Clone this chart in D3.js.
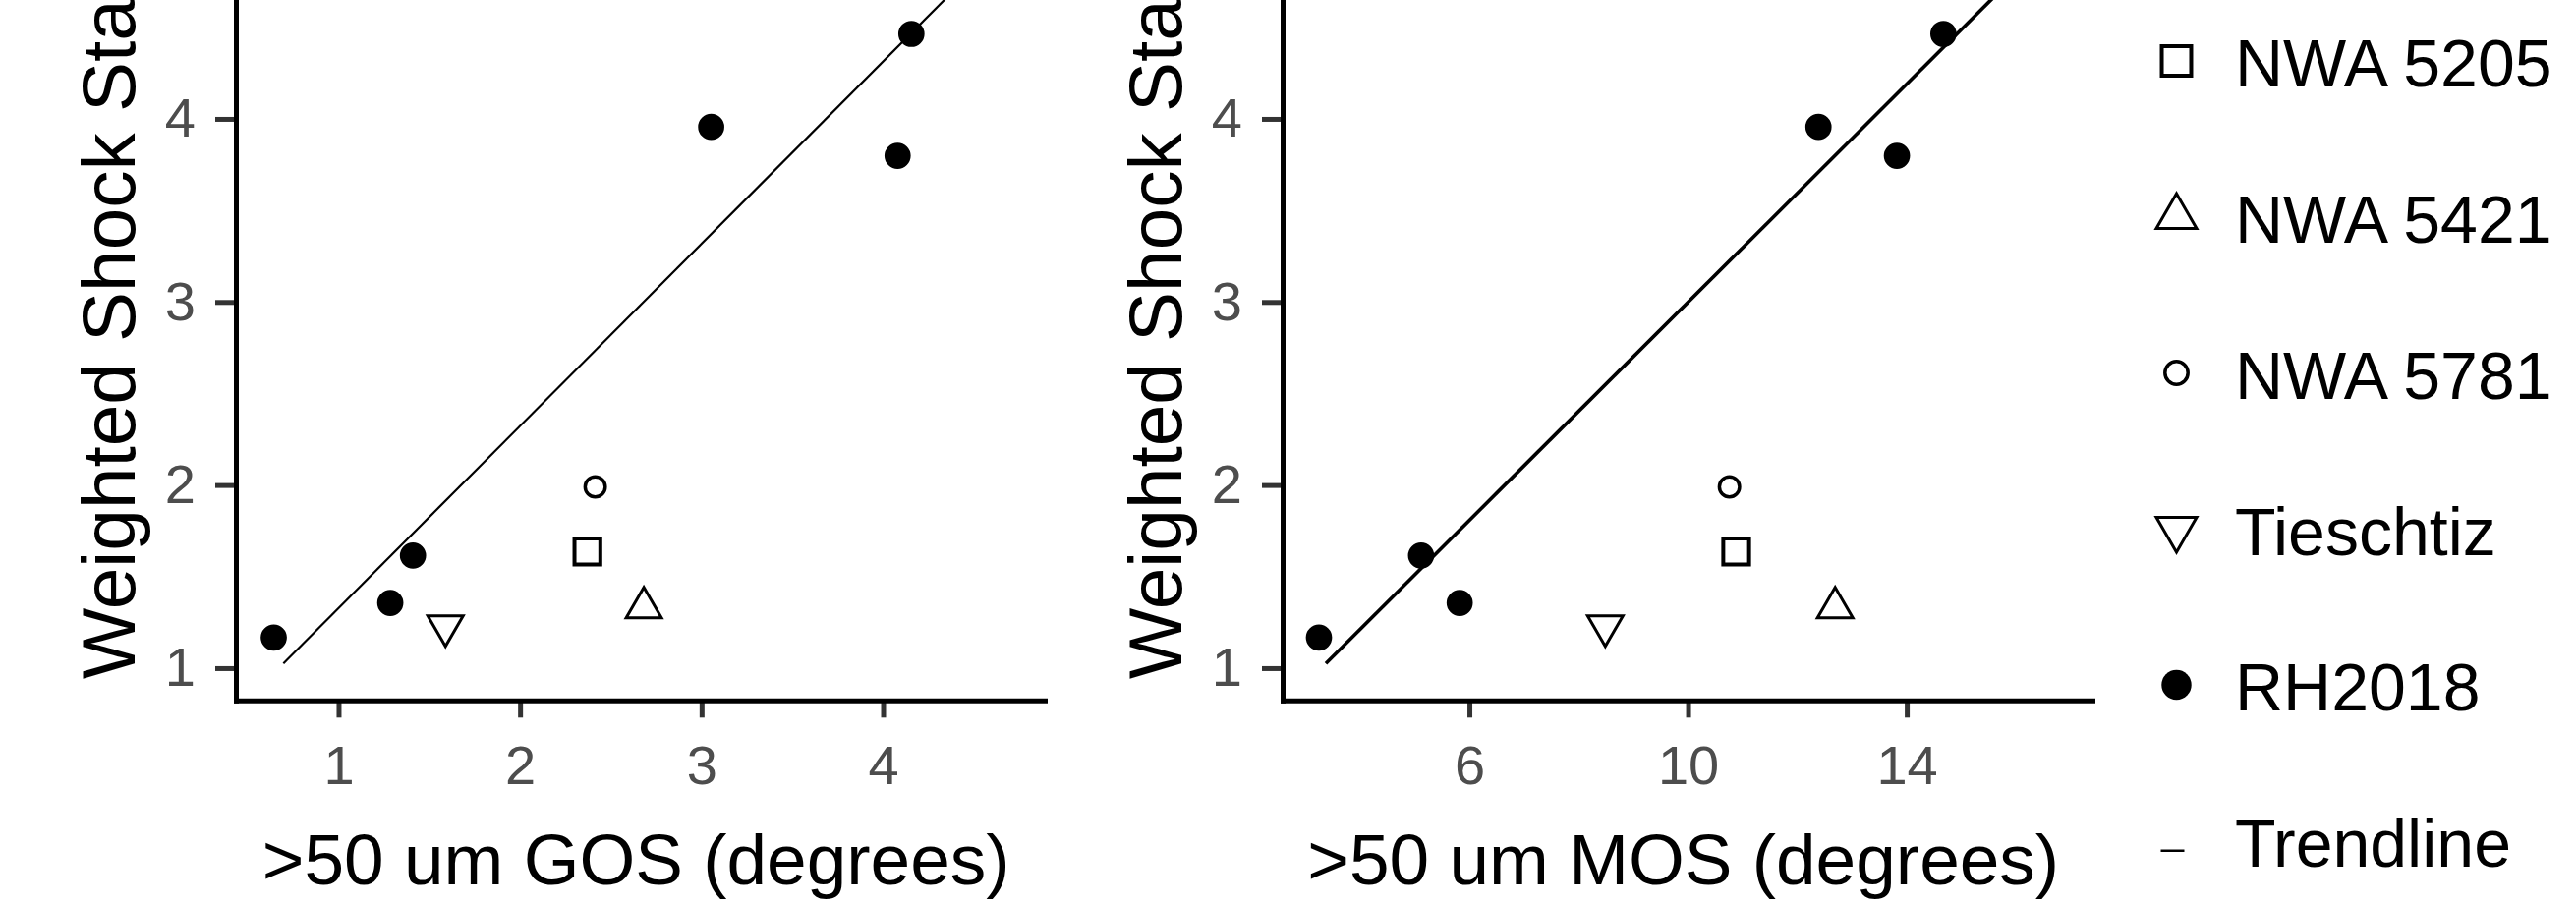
<!DOCTYPE html>
<html>
<head>
<meta charset="utf-8">
<script src="https://cdn.jsdelivr.net/npm/d3@7"></script>
<style>
  html, body { margin: 0; padding: 0; background: #ffffff; }
  svg { display: block; }
  text { font-family: "Liberation Sans", Arial, sans-serif; }
</style>
</head>
<body>
<script>
// ---------------- DATA ----------------
const shockStageRH2018 = [1.167, 1.356, 1.615, 3.956, 3.798, 4.464];
const gosRH2018 = [0.643, 1.285, 1.41, 3.053, 4.08, 4.156];
const mosRH2018 = [3.249, 5.823, 5.117, 12.385, 13.82, 14.67];

const meteorites = ["NWA 5205", "NWA 5421", "NWA 5781", "Tieschtiz"];
const meteoriteShock = [1.637, 1.33, 1.99, 1.23];
const meteoriteGOS = [2.371, 2.682, 2.414, 1.589];
const meteoriteMOS = [10.88, 12.69, 10.757, 8.486];

const trendGOSx = [0.696, 4.70];
const trendGOSy = [1.025, 5.01];
const trendMOSx = [3.375, 16.75];
const trendMOSy = [1.025, 5.01];

const gosTicks = [1, 2, 3, 4];
const mosTicks = [6, 10, 14];
const shockTicks = [1, 2, 3, 4, 5];

const legendLabels = ["NWA 5205", "NWA 5421", "NWA 5781", "Tieschtiz", "RH2018", "Trendline"];
const yTitle = "Weighted Shock Stage";
const xTitleGOS = ">50 um GOS (degrees)";
const xTitleMOS = ">50 um MOS (degrees)";

// ---------------- LAYOUT ----------------
const W = 2621, H = 921;
const svg = d3.select("body").append("svg")
  .attr("width", W).attr("height", H)
  .style("background", "#fff");

const axisY = 713.3;        // bottom of panels
const panelTop = -84;       // panels extend above visible area
const yScale = d3.scaleLinear().domain([0.821, 5.1]).range([axisY, panelTop]);

const panels = [
  { left: 240.5, right: 1066, domain: [0.437, 4.907], ticks: gosTicks,
    xs: gosRH2018, mx: meteoriteGOS, tx: trendGOSx, ty: trendGOSy,
    title: xTitleGOS, trendWidth: 2.2 },
  { left: 1305.5, right: 2132, domain: [2.593, 17.45], ticks: mosTicks,
    xs: mosRH2018, mx: meteoriteMOS, tx: trendMOSx, ty: trendMOSy,
    title: xTitleMOS, trendWidth: 3.6 }
];

const shapeOf = {
  "NWA 5205": { type: d3.symbolSquare, size: 690, rot: 0, fill: "none", sw: 4 },
  "NWA 5421": { type: d3.symbolTriangle, size: 560, rot: 0, fill: "none", sw: 3 },
  "NWA 5781": { type: d3.symbolCircle, size: 330, rot: 0, fill: "none", sw: 3.5 },
  "Tieschtiz": { type: d3.symbolTriangle, size: 560, rot: 180, fill: "none", sw: 3 },
  "RH2018": { type: d3.symbolCircle, size: 560, rot: 0, fill: "#000", sw: 0 }
};

function drawSymbol(g, name, x, y, scale) {
  const s = shapeOf[name];
  g.append("path")
    .attr("d", d3.symbol().type(s.type).size(s.size * scale)())
    .attr("transform", `translate(${x},${y}) rotate(${s.rot})`)
    .attr("fill", s.fill)
    .attr("stroke", s.fill === "none" ? "#000" : "none")
    .attr("stroke-width", s.sw);
}

panels.forEach(p => {
  const x = d3.scaleLinear().domain(p.domain).range([p.left, p.right]);
  const g = svg.append("g");

  // trendline
  const line = d3.line().x(d => x(d[0])).y(d => yScale(d[1]));
  g.append("path")
    .datum(d3.zip(p.tx, p.ty))
    .attr("d", line)
    .attr("fill", "none")
    .attr("stroke", "#000")
    .attr("stroke-width", p.trendWidth);

  // meteorite points
  meteorites.forEach((m, i) => drawSymbol(g, m, x(p.mx[i]), yScale(meteoriteShock[i]), 1));
  // RH2018 points
  p.xs.forEach((v, i) => drawSymbol(g, "RH2018", x(v), yScale(shockStageRH2018[i]), 1));

  // x axis
  const xa = svg.append("g").attr("transform", `translate(0,${axisY})`)
    .call(d3.axisBottom(x).tickValues(p.ticks).tickSize(17).tickSizeOuter(0).tickPadding(28).tickFormat(d3.format("d")));
  xa.select(".domain").remove();
  xa.selectAll(".tick line").attr("stroke", "#333").attr("stroke-width", 5);
  xa.selectAll(".tick text").attr("fill", "#4D4D4D").attr("font-size", 56)
    .attr("font-family", '"Liberation Sans", Arial, sans-serif');

  // y axis
  const ya = svg.append("g").attr("transform", `translate(${p.left},0)`)
    .call(d3.axisLeft(yScale).tickValues(shockTicks).tickSize(21.5).tickSizeOuter(0).tickPadding(20).tickFormat(d3.format("d")));
  ya.select(".domain").remove();
  ya.selectAll(".tick line").attr("stroke", "#333").attr("stroke-width", 5);
  ya.selectAll(".tick text").attr("fill", "#4D4D4D").attr("font-size", 56)
    .attr("font-family", '"Liberation Sans", Arial, sans-serif');

  // axis lines
  svg.append("line")
    .attr("x1", p.left - 2.5).attr("x2", p.right)
    .attr("y1", axisY).attr("y2", axisY)
    .attr("stroke", "#000").attr("stroke-width", 5);
  svg.append("line")
    .attr("x1", p.left).attr("x2", p.left)
    .attr("y1", axisY + 2.5).attr("y2", panelTop)
    .attr("stroke", "#000").attr("stroke-width", 5);

  // x title
  svg.append("text")
    .attr("x", (p.left + p.right) / 2 - 6)
    .attr("y", 900)
    .attr("text-anchor", "middle")
    .attr("font-size", 73)
    .attr("fill", "#000")
    .text(p.title);

  // y title
  svg.append("text")
    .attr("transform", `translate(${p.left - 103.5},691) rotate(-90)`)
    .attr("text-anchor", "start")
    .attr("font-size", 76.5)
    .attr("fill", "#000")
    .text(yTitle);
});

// ---------------- LEGEND ----------------
const legend = svg.append("g");
const keyX = 2214.5, textX = 2274, rowStart = 64, rowStep = 158.75;
legendLabels.forEach((lab, i) => {
  const cy = rowStart + i * rowStep;
  if (lab === "Trendline") {
    legend.append("line")
      .attr("x1", keyX - 16).attr("x2", keyX + 8)
      .attr("y1", cy + 8).attr("y2", cy + 8)
      .attr("stroke", "#000").attr("stroke-width", 2.5);
  } else {
    drawSymbol(legend, lab, keyX, cy - 2, 1.3);
  }
  legend.append("text")
    .attr("x", textX)
    .attr("y", cy)
    .attr("dy", "0.36em")
    .attr("font-size", 68)
    .attr("fill", "#000")
    .text(lab);
});
</script>
</body>
</html>
